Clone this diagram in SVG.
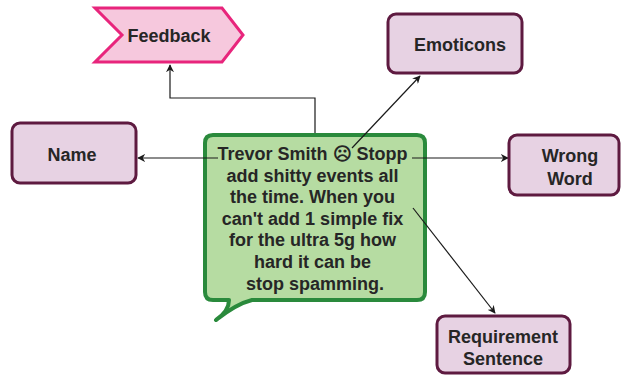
<svg xmlns="http://www.w3.org/2000/svg" width="622" height="376" viewBox="0 0 622 376">
  <style>
    .node rect { fill: #e7d2e3; stroke: #5e1a40; stroke-width: 3; }
    .label { font-family: "Liberation Sans", Arial, sans-serif; font-weight: bold; font-size: 18px; fill: #262626; text-anchor: middle; }
    .conn { fill: none; stroke: #1a1a1a; stroke-width: 1.2; }
  </style>
  <defs>
    <marker id="arrow" viewBox="0 0 10 10" refX="9" refY="5" markerWidth="8" markerHeight="8" markerUnits="userSpaceOnUse" orient="auto">
      <path d="M0,0 L10,5 L0,10 L3,5 Z" fill="#1a1a1a"/>
    </marker>
  </defs>
  <rect width="622" height="376" fill="#ffffff"/>

  <!-- central speech bubble -->
  <g id="message">
    <path d="M213,135 H417 Q425,135 425,143 V292 Q425,300 417,300 H252 Q236,304 216,320 Q229,311 229,300 H213 Q205,300 205,292 V143 Q205,135 213,135 Z" fill="#b6dca2" stroke="#2a8a3c" stroke-width="4" stroke-linejoin="round"/>
    <text class="label">
      <tspan x="315" y="160">Trevor Smith ☹ Stopp</tspan>
      <tspan x="315" y="182">add shitty events all</tspan>
      <tspan x="315" y="203">the time. When you</tspan>
      <tspan x="315" y="225">can't add 1 simple fix</tspan>
      <tspan x="315" y="246">for the ultra 5g how</tspan>
      <tspan x="315" y="268">hard it can be</tspan>
      <tspan x="315" y="290">stop spamming.</tspan>
    </text>
  </g>

  <!-- connectors start at the message text and run over the bubble -->
  <g id="connectors">
    <path class="conn" d="M315,133 V98 H170 V65" marker-end="url(#arrow)"/>
    <path class="conn" d="M352,148 L420,76" marker-end="url(#arrow)"/>
    <path class="conn" d="M218,158 H138" marker-end="url(#arrow)"/>
    <path class="conn" d="M412,158 H508" marker-end="url(#arrow)"/>
    <path class="conn" d="M413,208 L495,313" marker-end="url(#arrow)"/>
  </g>

  <g id="feedback">
    <path d="M95,8 H222 L243,35 L222,62 H95 L122,35 Z" fill="#f6c8dd" stroke="#e8257c" stroke-width="3" stroke-linejoin="miter"/>
    <text class="label" x="169" y="42">Feedback</text>
  </g>

  <g id="emoticons" class="node">
    <rect x="388" y="14" width="134" height="59" rx="8"/>
    <text class="label" x="460" y="51">Emoticons</text>
  </g>

  <g id="name" class="node">
    <rect x="12" y="123" width="124" height="60" rx="8"/>
    <text class="label" x="72" y="161">Name</text>
  </g>

  <g id="wrong-word" class="node">
    <rect x="509" y="135" width="110" height="60" rx="8"/>
    <text class="label"><tspan x="570" y="162">Wrong</tspan><tspan x="570" y="185">Word</tspan></text>
  </g>

  <g id="requirement" class="node">
    <rect x="437" y="316" width="133" height="57" rx="8"/>
    <text class="label"><tspan x="503" y="343">Requirement</tspan><tspan x="503" y="365">Sentence</tspan></text>
  </g>
</svg>
